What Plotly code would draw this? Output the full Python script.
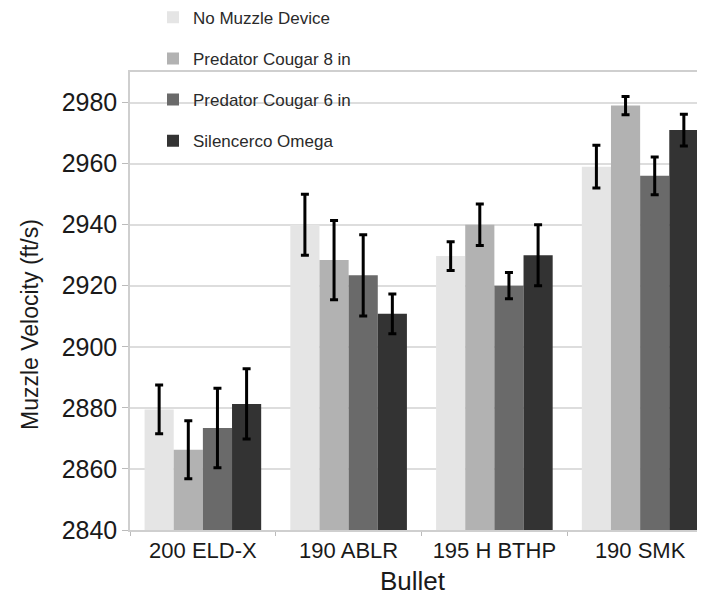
import plotly.graph_objects as go

bullets = ["200 ELD-X", "190 ABLR", "195 H BTHP", "190 SMK"]
series_names = ["No Muzzle Device", "Predator Cougar 8 in", "Predator Cougar 6 in", "Silencerco Omega"]
no_device = [2879.5, 2940, 2929.7, 2959]
cougar8 = [2866.3, 2928.4, 2940, 2979]
cougar6 = [2873.4, 2923.4, 2920, 2956]
omega = [2881.3, 2910.8, 2930, 2971]
err_no_device = [8, 10, 4.7, 7]
err_cougar8 = [9.5, 13, 6.8, 3]
err_cougar6 = [13, 13.3, 4.3, 6.2]
err_omega = [11.5, 6.5, 10, 5.2]
colors = ["#e5e5e5", "#b2b2b2", "#6a6a6a", "#333333"]

values = [no_device, cougar8, cougar6, omega]
errors = [err_no_device, err_cougar8, err_cougar6, err_omega]

fig = go.Figure()
for i, name in enumerate(series_names):
    fig.add_trace(go.Bar(
        x=bullets, y=values[i], name=name,
        marker=dict(color=colors[i], line=dict(width=0)),
        error_y=dict(type="data", array=errors[i], visible=True,
                     color="#000000", thickness=3, width=4),
        legendgroup=name,
    ))

L, T, B = 122, 64, 73
PW, PH = 705 - L, 595 - T - B

font_family = "Liberation Sans, Arial, sans-serif"
fig.update_layout(
    width=705, height=595,
    margin=dict(l=L, r=0, t=T, b=B, autoexpand=False),
    paper_bgcolor="white", plot_bgcolor="white",
    barmode="group", bargap=0.2, bargroupgap=0,
    font=dict(family=font_family, color="#222222"),
    showlegend=True,
    legend=dict(x=(145 - L) / PW, y=(T + PH + 8.2) / PH, xanchor="left", yanchor="top",
                bgcolor="rgba(0,0,0,0)", tracegroupgap=16,
                font=dict(size=17, color="#2a2a2a"),
                itemwidth=30),
    xaxis=dict(
        range=[-0.5, 3.5], showline=True, mirror=True, linecolor="#cfcfcf",
        linewidth=1.5, ticks="outside", tickson="boundaries", ticklen=4,
        tickcolor="#bbbbbb", tickfont=dict(size=22, color="#1a1a1a"),
        showgrid=False, automargin=False,
    ),
    yaxis=dict(
        range=[2840, 2990], dtick=20, tick0=2840, showline=True, linecolor="#cfcfcf",
        linewidth=1.5, ticks="outside", ticklen=6, tickcolor="#bbbbbb",
        gridcolor="#dddddd", gridwidth=1.5,
        tickfont=dict(size=25, color="#1a1a1a"),
        zeroline=False, automargin=False,
    ),
    annotations=[
        dict(text="Muzzle Velocity (ft/s)", textangle=-90,
             xref="paper", yref="paper",
             x=(22 - L) / PW, y=(T + PH - 317) / PH,
             xanchor="center", yanchor="middle", showarrow=False,
             font=dict(size=23, color="#1a1a1a")),
        dict(text="Bullet",
             xref="paper", yref="paper",
             x=(405 - L) / PW, y=(T + PH - 573) / PH,
             xanchor="center", yanchor="middle", showarrow=False,
             font=dict(size=26, color="#1a1a1a")),
    ],
)

fig.write_html("out.html")
